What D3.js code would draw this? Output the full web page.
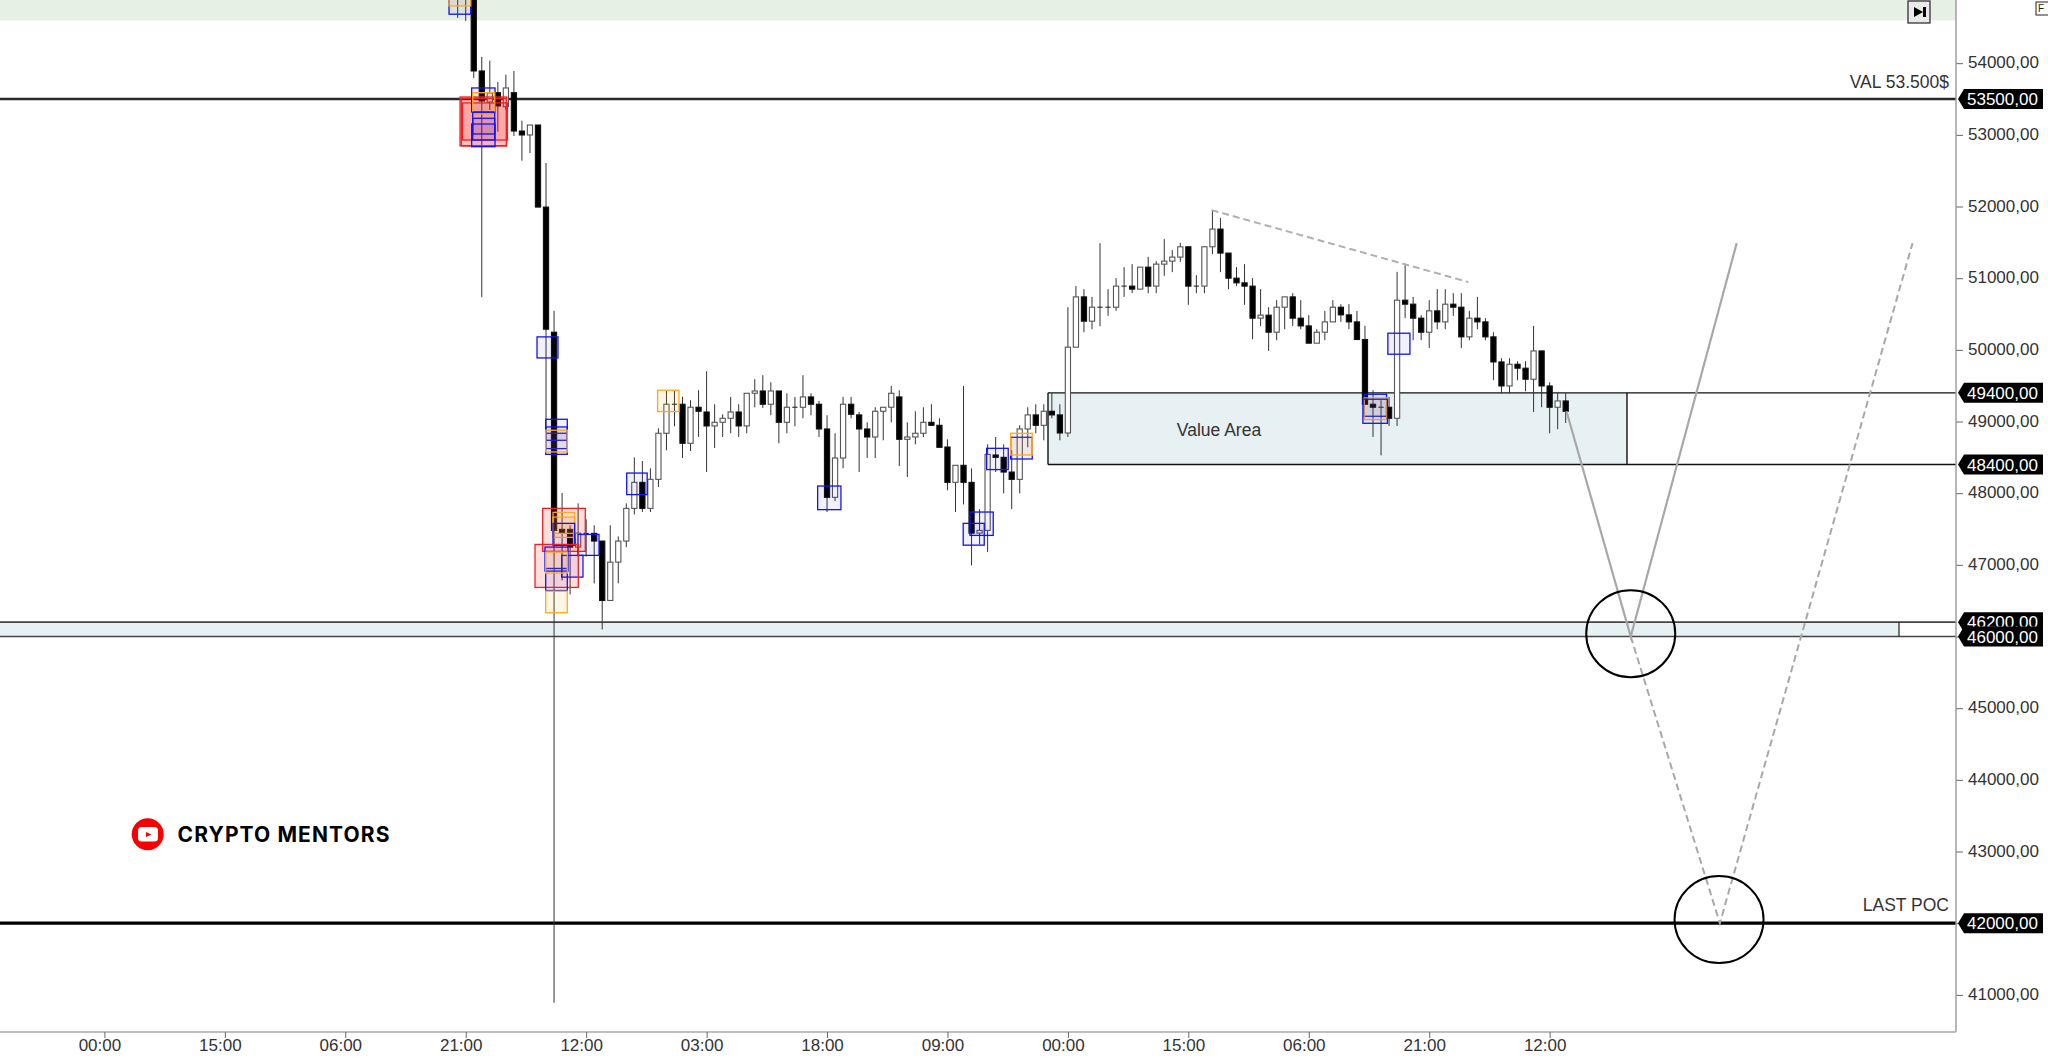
<!DOCTYPE html>
<html><head><meta charset="utf-8">
<script src="https://cdn.jsdelivr.net/npm/d3@7/dist/d3.min.js"></script>
<style>html,body{margin:0;padding:0;background:#fff;overflow:hidden}svg{display:block}text{font-family:"Liberation Sans",Arial,sans-serif}</style>
</head><body><svg id="c" width="2048" height="1058"></svg>
<script>
const open=[55100,55100,55400,53891,53458,53588,53393,53588,53053,52998,
53137,51992,50246,47495,47495,47248,47439,47439,47332,46503,
47038,47332,47788,48151,47788,48193,48836,49241,49241,48696,
49199,49133,48938,48989,49045,49133,48938,49394,49426,49241,
49426,48989,49199,49199,49343,49241,48896,47942,48491,49241,
49092,48896,48784,49143,49199,49343,48752,48784,48836,48989,
48947,48644,48151,48389,48151,47443,47481,48533,48500,48295,
48193,48896,49092,48947,49143,49092,48840,50037,50739,50400,
50595,50595,50595,50889,50889,50847,51154,50889,51196,51238,
51294,51438,50889,50889,51438,51685,51350,51000,50935,50889,
50442,50484,50246,50595,50739,50442,50334,50093,50246,50390,
50595,50488,50390,50144,49241,49199,49199,49045,50693,50637,
50442,50246,50544,50390,50637,50595,50181,50442,50390,50181,
49831,49496,49799,49744,49590,49985,49496,49199,49287];
const close=[55000,55000,53891,53472,53584,53403,53654,53053,52998,53137,
51992,50288,47481,47439,47248,47443,47439,47332,46503,47038,
47332,47788,48151,47788,48193,48836,49241,49241,48696,49199,
49143,48938,48989,49045,49133,48938,49394,49426,49241,49426,
48989,49199,49199,49343,49241,48896,47942,48491,49241,49101,
48896,48784,49143,49199,49394,48752,48784,48836,48989,48947,
48640,48151,48389,48151,47443,47481,48542,48500,48295,48193,
48896,49092,48947,49143,49092,48840,50037,50739,50400,50595,
50595,50595,50889,50889,50847,51154,50889,51196,51238,51294,
51438,50889,50889,51438,51685,51350,51000,50935,50889,50442,
50484,50246,50595,50739,50442,50334,50093,50246,50390,50595,
50488,50390,50144,49241,49199,49199,49045,50693,50637,50442,
50246,50544,50390,50637,50595,50181,50442,50390,50181,49831,
49496,49799,49744,49590,49985,49496,49199,49287,49143];
const high=[55200,55200,55500,54087,54035,53738,53840,53891,53197,53137,
53137,52607,50544,48002,47551,47858,47635,47551,47332,47551,
47397,47858,48500,48449,48347,48905,49426,49426,49343,49297,
49436,49702,49241,49101,49343,49241,49394,49590,49646,49548,
49426,49394,49343,49646,49394,49287,49087,48836,49343,49343,
49133,48989,49199,49199,49496,49436,48989,49143,49199,49241,
49045,48752,48389,49496,48347,47778,48682,48784,48682,48598,
48947,49199,49241,49241,49394,49241,50595,50889,50847,50739,
51489,50847,51000,51154,51196,51154,51298,51238,51545,51391,
51493,51438,51042,51438,51950,51838,51350,51154,51196,51000,
50847,50595,50693,50739,50791,50693,50484,50288,50544,50693,
50637,50637,50544,50334,49436,49297,49343,51088,51182,50739,
50484,50693,50847,50847,50791,50791,50544,50739,50442,50246,
49883,49883,49841,49841,50334,49985,49548,49394,49394];
const low=[54632,54590,53794,50735,53347,53044,53347,52984,52639,52746,
51992,48836,40889,46783,46587,47118,47118,46741,46098,46503,
46741,47248,47704,47737,47737,48086,48598,48933,48491,48589,
48784,48295,48630,48784,48836,48784,48836,49199,49189,49087,
48696,48836,48933,49045,49087,48784,47737,47890,48347,49045,
48295,48491,48491,48738,48989,48379,48225,48682,48784,48947,
48640,48040,47737,47844,46992,47286,47178,48295,47998,47778,
47998,48640,48836,48738,49045,48738,48784,50037,50246,50288,
50330,50474,50544,50739,50791,50847,50791,50791,51033,51084,
51228,50628,50791,50791,51336,51084,50847,50889,50628,50148,
50334,49985,50134,50288,50334,50288,50093,50093,50134,50390,
50390,50288,50144,49241,48784,48528,48938,48938,50442,50134,
50134,50027,50288,50288,50474,50027,50134,50288,50134,49576,
49394,49394,49576,49422,49133,49199,48836,48892,48979];
// zones: [kind, startBar, endBar, topPrice, bottomPrice]
const zones=[
["blue",-1.08,1.62,54995,54683],["orange",-1.08,1.62,55092,54799],
["red",0.29,6.1,53528,52848],["red",0.6,6.2,53445,52928],["red",0.45,6.05,53507,52844],
["blue",1.74,4.65,53654,53319],["orange",1.87,4.61,53588,53291],
["blue",1.87,4.61,53315,53012],["blue",1.87,4.61,53231,52928],["blue",1.74,4.65,53151,52834],
["blue",9.88,12.49,50181,49887],
["blue",10.96,13.65,49031,48738],["blue",10.96,13.65,48924,48622],["blue",10.96,13.65,48836,48542],["orange",10.96,13.65,48878,48575],
["red",10.59,15.89,47788,47188],["orange",11.87,14.57,47733,47439],["orange",11.87,14.57,47667,47383],["blue",11.87,14.57,47579,47272],
["blue",14.98,17.6,47425,47132],["blue",12.95,15.6,47132,46829],
["red",9.63,15.02,47285,46685],["blue",10.87,13.74,47248,46913],["blue",10.96,13.65,46950,46643],
["orange",10.96,13.65,47178,46885],["orange",10.96,13.65,46633,46332],
["blue",21.05,23.6,48281,47980],["orange",24.9,27.56,49436,49139],
["blue",44.83,47.73,48100,47770],["blue",62.96,65.58,47579,47275],["blue",63.8,66.7,47737,47411],
["blue",65.88,68.57,48626,48329],["blue",68.87,71.56,48780,48477],["orange",68.87,71.56,48836,48533],
["blue",112.9,115.69,49380,49073],["orange",112.9,115.69,49329,49027],["blue",112.74,115.8,49311,48975],["blue",115.85,118.6,50232,49939]
];
const priceTicks=[54000,53000,52000,51000,50000,49000,48000,47000,46000,45000,44000,43000,42000,41000];
const priceTags=[53500,49400,48400,46200,46000,42000];
const timeLabels=["00:00","15:00","06:00","21:00","12:00","03:00","18:00","09:00","00:00","15:00","06:00","21:00","12:00"];
const timeBars=[-44,-29,-14,1,16,31,46,61,76,91,106,121,136];
const projection=[[138.1,49143],[146.1,46000],[159.3,51489]];
const projectionDashed=[[146.1,46000],[157.2,42000],[181.2,51489]];
const trendline=[[93.9,51950],[125.9,50945]];
const circles=[[146.1,46040],[157.1,42050]];

const svg=d3.select("#c");
const y=d3.scaleLinear().domain([53500,42000]).range([99,923.2]);
const x=d3.scaleLinear().domain([0,138]).range([457.7,1565.7]);
const axisX=1956,axisY=1032;
const g=svg.append("g");

// background zones
g.append("rect").attr("x",0).attr("width",axisX).attr("y",0).attr("height",y(54597)).attr("fill","#e6f0e4");
g.append("rect").attr("x",0).attr("width",1899).attr("y",y(46200)).attr("height",y(46000)-y(46200)).attr("fill","#e7f0f3");
g.append("rect").attr("x",1048).attr("width",579).attr("y",y(49400)).attr("height",y(48400)-y(49400)).attr("fill","#e7f0f3");
const hl=(p,x0,w,c)=>g.append("line").attr("x1",x0).attr("x2",axisX).attr("y1",y(p)).attr("y2",y(p)).attr("stroke",c).attr("stroke-width",w);
hl(49400,1048,1.4,"#111");hl(48400,1048,1.4,"#111");
hl(46200,0,1.7,"#444");hl(46000,0,1.7,"#444");
g.append("line").attr("x1",1048).attr("x2",1048).attr("y1",y(49400)).attr("y2",y(48400)).attr("stroke","#111").attr("stroke-width",1.4);
g.append("line").attr("x1",1627).attr("x2",1627).attr("y1",y(49400)).attr("y2",y(48400)).attr("stroke","#111").attr("stroke-width",1.4);
g.append("line").attr("x1",1899).attr("x2",1899).attr("y1",y(46200)).attr("y2",y(46000)).attr("stroke","#222").attr("stroke-width",1.2);
hl(53500,0,2.4,"#2a2a2a");hl(42000,0,3.2,"#000");

// candles
const bars=d3.range(open.length);
const cg=g.append("g");
cg.selectAll("line.w").data(bars).join("line").attr("class","w")
 .attr("x1",i=>x(i)).attr("x2",i=>x(i)).attr("y1",i=>y(high[i])).attr("y2",i=>y(low[i]))
 .attr("stroke","#333").attr("stroke-width",1);
cg.selectAll("rect.b").data(bars.filter(i=>open[i]!==close[i])).join("rect").attr("class","b")
 .attr("x",i=>x(i)-2.6).attr("width",5.2)
 .attr("y",i=>y(Math.max(open[i],close[i]))).attr("height",i=>Math.abs(y(open[i])-y(close[i])))
 .attr("fill",i=>close[i]<open[i]?"#000":"#fff")
 .attr("stroke",i=>close[i]<open[i]?"#111":"#555").attr("stroke-width",1.1);
cg.selectAll("line.d").data(bars.filter(i=>open[i]===close[i])).join("line").attr("class","d")
 .attr("x1",i=>x(i)-2.6).attr("x2",i=>x(i)+2.6).attr("y1",i=>y(open[i])).attr("y2",i=>y(open[i]))
 .attr("stroke","#333").attr("stroke-width",1.2);

// zones
const zs={red:["#ff0000",0.13,"#f02020"],blue:["#0000ff",0.06,"#1414f0"],orange:["#ffa500",0.1,"#ffa81e"]};
g.append("g").selectAll("rect").data(zones).join("rect")
 .attr("x",d=>x(d[1])).attr("width",d=>x(d[2])-x(d[1]))
 .attr("y",d=>y(d[3])).attr("height",d=>y(d[4])-y(d[3]))
 .attr("fill",d=>zs[d[0]][0]).attr("fill-opacity",d=>zs[d[0]][1])
 .attr("stroke",d=>zs[d[0]][2]).attr("stroke-width",1.3);

// drawings
const ln=d3.line().x(d=>x(d[0])).y(d=>y(d[1]));
g.append("path").attr("d",ln(projection)).attr("fill","none").attr("stroke","#a8a8a8").attr("stroke-width",2.2);
g.append("path").attr("d",ln(projectionDashed)).attr("fill","none").attr("stroke","#a8a8a8").attr("stroke-width",2).attr("stroke-dasharray","7 4");
g.append("path").attr("d",ln(trendline)).attr("fill","none").attr("stroke","#b0b0b0").attr("stroke-width",2).attr("stroke-dasharray","7 4");
g.append("g").selectAll("ellipse").data(circles).join("ellipse")
 .attr("cx",d=>x(d[0])).attr("cy",d=>y(d[1])).attr("rx",44.5).attr("ry",43.5)
 .attr("fill","none").attr("stroke","#000").attr("stroke-width",2);

// annotation text
const t=(s,xx,yy,anchor,size,fill)=>g.append("text").attr("x",xx).attr("y",yy).attr("text-anchor",anchor).attr("font-size",size).attr("fill",fill).text(s);
t("VAL 53.500$",1949,88,"end",17.5,"#333");
t("LAST POC",1949,911,"end",17.5,"#333");
t("Value Area",1219,436,"middle",17.5,"#333");

// axes
const ay=d3.axisRight(y).tickValues(priceTicks).tickSize(7).tickPadding(5).tickFormat(d=>d+",00");
const ya=svg.append("g").attr("transform",`translate(${axisX},0)`).call(ay);
ya.select(".domain").remove();
ya.selectAll("line").attr("stroke","#666");
ya.selectAll("text").attr("font-size",17).attr("fill","#333").attr("dy","0.28em").style("font-family",'"Liberation Sans"');
svg.append("line").attr("x1",axisX).attr("x2",axisX).attr("y1",0).attr("y2",axisY).attr("stroke","#999").attr("stroke-width",1.4);
svg.append("line").attr("x1",0).attr("x2",axisX).attr("y1",axisY).attr("y2",axisY).attr("stroke","#aaa").attr("stroke-width",1.4);
const ax=d3.axisBottom(x).tickValues(timeBars).tickSize(6).tickPadding(1).tickFormat((d,i)=>timeLabels[i]);
const xa=svg.append("g").attr("transform",`translate(0,${axisY})`).call(ax);
xa.select(".domain").remove();
xa.selectAll("line").attr("stroke","#666");
xa.selectAll("text").attr("font-size",17).attr("fill","#333").attr("dx",-5).style("font-family",'"Liberation Sans"');

// price tags
const tags=svg.append("g").selectAll("g").data(priceTags).join("g").attr("transform",d=>`translate(0,${y(d)})`);
tags.append("path").attr("d","M1958,0L1964,-10H2043V10H1964Z").attr("fill","#000");
tags.append("text").attr("x",1967).attr("y",6).attr("font-size",17).attr("fill","#fff").text(d=>d+",00");

// buttons
svg.append("rect").attr("x",1908).attr("y",1).attr("width",22).attr("height",22).attr("fill","#e9e9e9").attr("stroke","#333").attr("stroke-width",1.3);
svg.append("path").attr("d","M1914,7L1923,12L1914,17Z M1923,7H1926V17H1923Z").attr("fill","#000");
svg.append("rect").attr("x",2036).attr("y",2).attr("width",20).attr("height",13).attr("fill","#fff").attr("stroke","#222").attr("stroke-width",1);
svg.append("text").attr("x",2038).attr("y",12).attr("font-size",10).attr("fill","#222").text("F");

// logo
svg.append("circle").attr("cx",147.7).attr("cy",834.3).attr("r",16).attr("fill","#f80000");
svg.append("rect").attr("x",138).attr("y",827).attr("width",20).attr("height",14.5).attr("rx",3.5).attr("fill","#fff");
svg.append("path").attr("d","M146,832L151.5,834.5L146,837Z").attr("fill","#f80000");
svg.append("text").attr("x",177.5).attr("y",841.7).attr("font-size",21).attr("font-weight",700).attr("fill","#000")
 .attr("textLength",212).attr("lengthAdjust","spacing").style("font-family","Inter").text("CRYPTO MENTORS");
</script></body></html>
